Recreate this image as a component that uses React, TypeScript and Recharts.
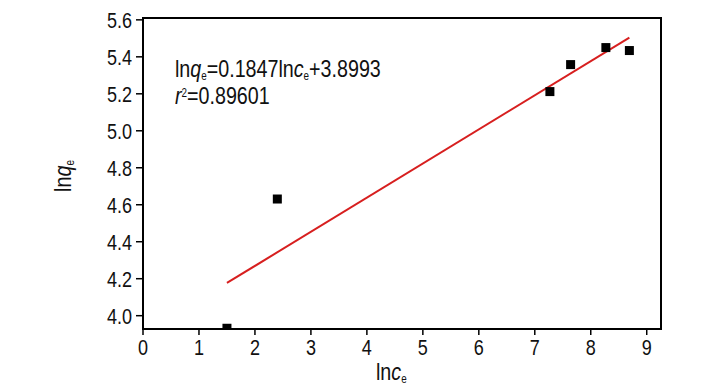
import {
  ReferenceArea,
  Scatter,
  ScatterChart,
  XAxis,
  YAxis,
} from "recharts";

// measured points (ln ce, ln qe)
const lnCe = [1.5, 2.4, 7.27, 7.64, 8.27, 8.69];
const lnQe = [3.932, 4.631, 5.212, 5.358, 5.45, 5.434];

// fitted line endpoints
const fitX = [1.5, 8.69];
const fitY = [4.177, 5.504];

const xTicks = [0, 1, 2, 3, 4, 5, 6, 7, 8, 9];
const yTicks = [4.0, 4.2, 4.4, 4.6, 4.8, 5.0, 5.2, 5.4, 5.6];

const X_DOMAIN: [number, number] = [0, 9.255];
const Y_DOMAIN: [number, number] = [3.928, 5.61];

// no narrow font installed, so squeeze Liberation Sans instead
const FONT = "'Liberation Sans', Arial, sans-serif";
const SQUEEZE = 0.82;

const points = lnCe.map((x, i) => ({ x, y: lnQe[i] }));
const fit = fitX.map((x, i) => ({ x, y: fitY[i] }));

function SquareDot(props: any) {
  const { cx, cy } = props;
  if (cx == null || cy == null) return null;
  return <rect x={cx - 4.5} y={cy - 4.5} width={9} height={9} fill="#000" />;
}

function NarrowTick(props: any) {
  const { x, y, payload, axis } = props;
  const isY = axis === "y";
  const label = isY ? Number(payload.value).toFixed(1) : String(payload.value);
  return (
    <text
      transform={`translate(${x},${y}) scale(${SQUEEZE},1)`}
      textAnchor={isY ? "end" : "middle"}
      dy={isY ? "0.36em" : "0.71em"}
      fontSize={22}
      fontFamily={FONT}
      fill="#111"
    >
      {label}
    </text>
  );
}

const squeezed = {
  display: "inline-block",
  transform: `scaleX(${SQUEEZE})`,
  transformOrigin: "left center",
};

const subStyle = { fontSize: 12, verticalAlign: "-3px", lineHeight: 0 };
const supStyle = { fontSize: 12, verticalAlign: "7px", lineHeight: 0 };

export default function App() {
  return (
    <div
      style={{
        position: "absolute",
        left: 0,
        top: 0,
        width: 728,
        height: 390,
        background: "#fff",
        fontFamily: FONT,
        color: "#111",
      }}
    >
      <ScatterChart
        width={728}
        height={390}
        margin={{ top: 18, right: 67, bottom: 31, left: 83 }}
      >
        <XAxis
          type="number"
          dataKey="x"
          domain={X_DOMAIN}
          ticks={xTicks}
          allowDataOverflow
          height={30}
          tickSize={6}
          tickMargin={4}
          stroke="#000"
          axisLine={{ stroke: "#000", strokeWidth: 2 }}
          tickLine={{ stroke: "#000", strokeWidth: 1.5 }}
          tick={<NarrowTick axis="x" />}
          interval={0}
        />
        <YAxis
          type="number"
          dataKey="y"
          domain={Y_DOMAIN}
          ticks={yTicks}
          allowDataOverflow
          width={60}
          tickSize={7}
          tickMargin={4}
          stroke="#000"
          axisLine={{ stroke: "#000", strokeWidth: 2 }}
          tickLine={{ stroke: "#000", strokeWidth: 1.5 }}
          tick={<NarrowTick axis="y" />}
          interval={0}
        />
        <ReferenceArea
          x1={X_DOMAIN[0]}
          x2={X_DOMAIN[1]}
          y1={Y_DOMAIN[0]}
          y2={Y_DOMAIN[1]}
          fill="none"
          stroke="#000"
          strokeWidth={2}
          ifOverflow="visible"
        />
        <Scatter
          data={fit}
          line={{ stroke: "#d71f1f", strokeWidth: 2 }}
          shape={() => <g />}
          isAnimationActive={false}
        />
        <Scatter data={points} shape={SquareDot} isAnimationActive={false} />
      </ScatterChart>

      <div style={{ position: "absolute", left: 175, top: 57, fontSize: 24, lineHeight: "24px", whiteSpace: "nowrap" }}>
        <span style={squeezed}>
          ln<i>q</i>
          <sub style={subStyle}>e</sub>=0.1847ln<i>c</i>
          <sub style={subStyle}>e</sub>+3.8993
        </span>
      </div>
      <div style={{ position: "absolute", left: 175, top: 84, fontSize: 24, lineHeight: "24px", whiteSpace: "nowrap" }}>
        <span style={squeezed}>
          <i>r</i>
          <sup style={supStyle}>2</sup>=0.89601
        </span>
      </div>

      <div style={{ position: "absolute", left: 376, top: 360, fontSize: 24, lineHeight: "24px", whiteSpace: "nowrap" }}>
        <span style={squeezed}>
          ln<i>c</i>
          <sub style={subStyle}>e</sub>
        </span>
      </div>
      <div
        style={{
          position: "absolute",
          left: 63,
          top: 176,
          fontSize: 24,
          lineHeight: "24px",
          whiteSpace: "nowrap",
          transform: `translate(-50%, -50%) rotate(-90deg) scaleX(${SQUEEZE})`,
        }}
      >
        ln<i>q</i>
        <sub style={subStyle}>e</sub>
      </div>
    </div>
  );
}
